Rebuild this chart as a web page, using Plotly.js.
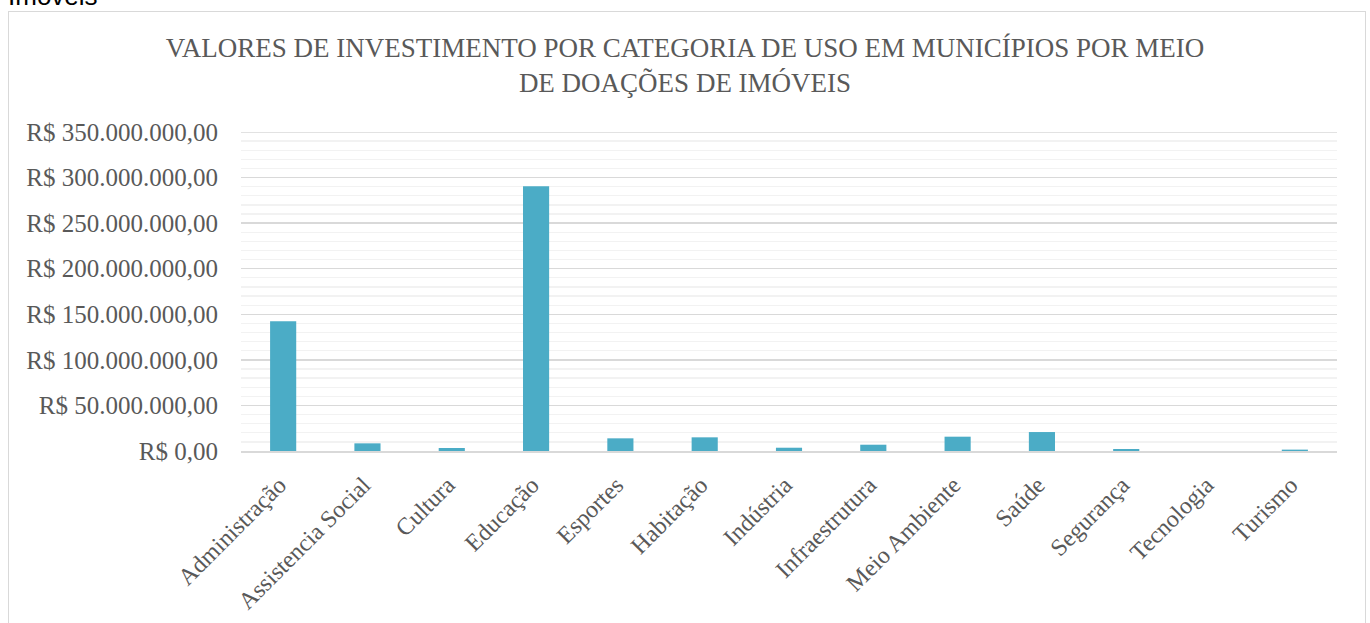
<!DOCTYPE html>
<html>
<head>
<meta charset="utf-8">
<script src="https://cdn.plot.ly/plotly-3.0.1.min.js"></script>
<style>
  html, body { margin: 0; padding: 0; background: #fff; overflow: hidden; }
  #wrap { position: relative; width: 1370px; height: 623px; overflow: hidden; }
  #chart { position: absolute; left: 0; top: 0; width: 1370px; height: 623px; }
  #frame { position: absolute; left: 8px; top: 11px; width: 1356px; height: 640px;
           border: 1.5px solid #d9d9d9; pointer-events: none; }
  #cap { position: absolute; left: 8px; top: -19px; font-family: "Liberation Sans", Arial, sans-serif;
         font-size: 26px; line-height: 30px; color: #000; white-space: nowrap; z-index: 5; }
</style>
</head>
<body>
<div id="wrap">
  <div id="frame"></div>
  <div id="chart"></div>
  <div id="cap">Imóveis</div>
</div>
<script>
const categories = ["Administração", "Assistencia Social", "Cultura", "Educação", "Esportes",
  "Habitação", "Indústria", "Infraestrutura", "Meio Ambiente", "Saúde", "Segurança",
  "Tecnologia", "Turismo"];
const valores = [142300000, 8400000, 3300000, 290400000, 13900000, 15000000, 3600000,
  6900000, 15700000, 20800000, 2200000, 0, 1500000];
const yTickVals = [0, 50000000, 100000000, 150000000, 200000000, 250000000, 300000000, 350000000];
const yTickText = ["R$ 0,00", "R$ 50.000.000,00", "R$ 100.000.000,00", "R$ 150.000.000,00",
  "R$ 200.000.000,00", "R$ 250.000.000,00", "R$ 300.000.000,00", "R$ 350.000.000,00"];
const titulo = "VALORES DE INVESTIMENTO POR CATEGORIA DE USO EM MUNICÍPIOS POR MEIO<br>DE DOAÇÕES DE IMÓVEIS";

const serif = "'Liberation Serif', 'DejaVu Serif', serif";
const yMax = yTickVals[yTickVals.length - 1];

Plotly.newPlot("chart", [{
  type: "bar",
  x: categories,
  y: valores,
  marker: { color: "#4BACC6" },
  hoverinfo: "x+y"
}], {
  width: 1370, height: 623,
  margin: { l: 241, r: 33, t: 132, b: 171.5, pad: 0 },
  paper_bgcolor: "rgba(0,0,0,0)",
  plot_bgcolor: "rgba(0,0,0,0)",
  bargap: 0.69,
  showlegend: false,
  title: {
    text: titulo,
    font: { family: serif, size: 27, color: "#595959" },
    x: 0.5, xref: "container", xanchor: "center",
    y: 0.909, yref: "container", yanchor: "top"
  },
  shapes: [{
    type: "line", xref: "paper", yref: "y", x0: 0, x1: 1, y0: yMax, y1: yMax,
    line: { color: "#d9d9d9", width: 1.3 }, layer: "below"
  }],
  xaxis: {
    type: "category",
    tickangle: -45,
    tickfont: { family: serif, size: 24, color: "#595959" },
    ticklabelstandoff: 9,
    ticklabelshift: -4,
    showgrid: false,
    showline: true, linecolor: "#d9d9d9", linewidth: 1.5,
    ticks: "", zeroline: false
  },
  yaxis: {
    range: [0, yMax],
    tickvals: yTickVals,
    ticktext: yTickText,
    tickfont: { family: serif, size: 25, color: "#595959" },
    ticklabelstandoff: 22,
    showgrid: true, gridcolor: "#d9d9d9", gridwidth: 1.3,
    minor: { dtick: 10000000, showgrid: true, gridcolor: "#f2f2f2", gridwidth: 1.3 },
    zeroline: false, showline: false, ticks: ""
  }
}, { staticPlot: true, displayModeBar: false });
</script>
</body>
</html>
